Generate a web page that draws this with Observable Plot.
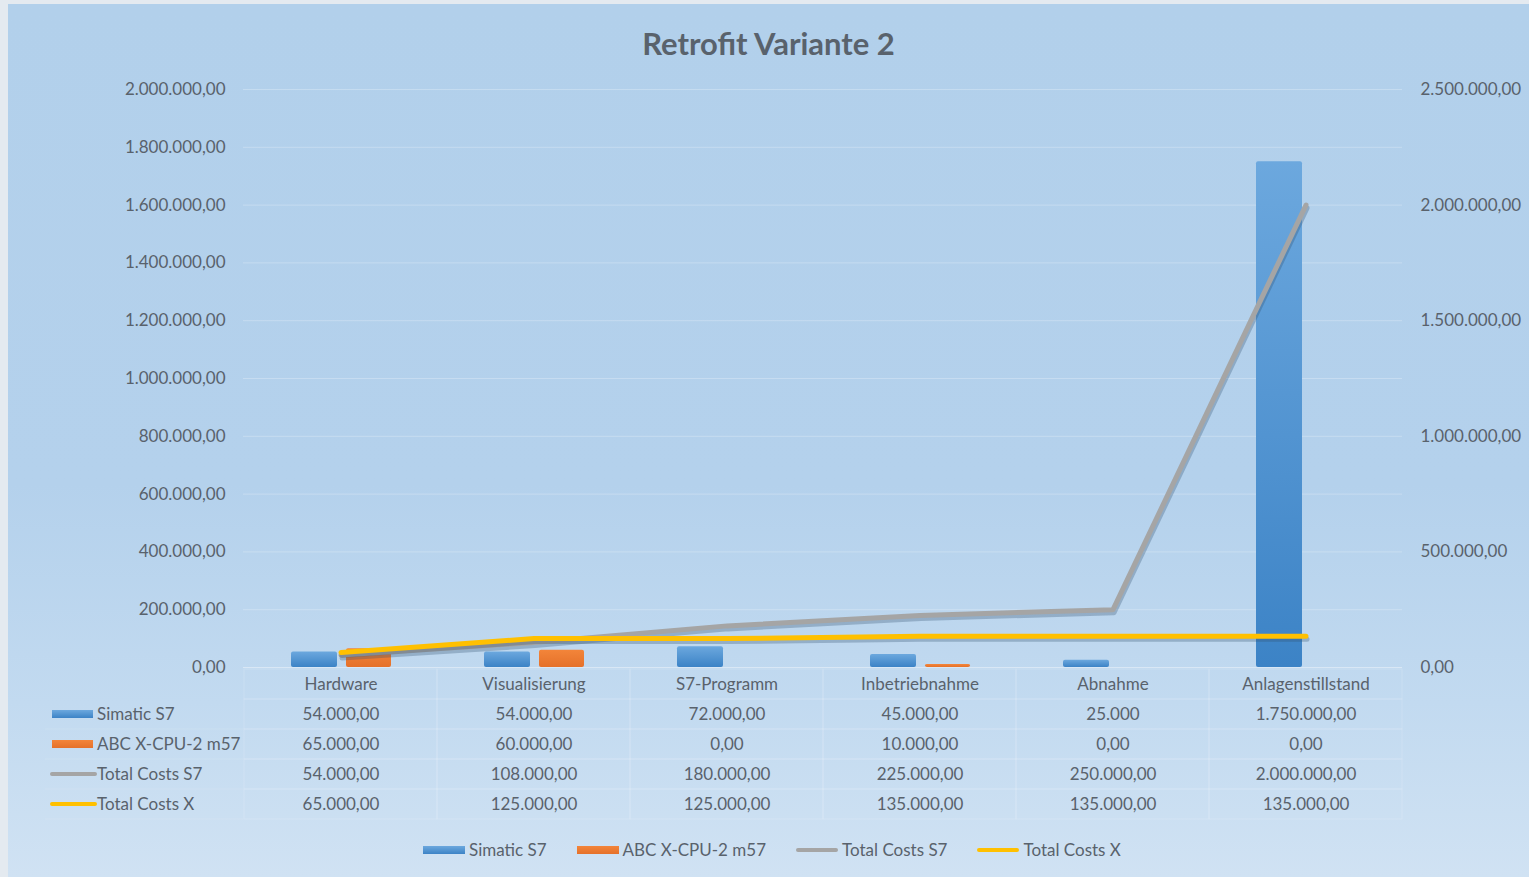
<!DOCTYPE html>
<html><head><meta charset="utf-8">
<script src="https://cdn.jsdelivr.net/npm/d3@7"></script>
<script src="https://cdn.jsdelivr.net/npm/@observablehq/plot@0.6"></script>
<style>
html,body{margin:0;padding:0;background:#e4eaf0;width:1529px;height:877px;overflow:hidden;}
#chart{position:absolute;left:8px;top:4px;width:1521px;height:873px;
  background:linear-gradient(180deg,#b2d0eb 0%,#b4d1ec 55%,#c2daf0 80%,#d0e2f3 100%);
  font-family:Lato,"Open Sans",sans-serif;color:#59626c;overflow:hidden;}
#title{position:absolute;left:0;width:1521px;top:20px;text-align:center;font-weight:bold;font-size:31px;line-height:38px;color:#59626c;}
#main{position:absolute;left:0;top:56px;}
#table{position:absolute;left:0;top:663px;}
#legend{position:absolute;left:415px;top:836px;height:20px;display:flex;align-items:center;font-size:17px;line-height:20px;}
.item{display:flex;align-items:center;margin-right:30px;}
.sw{width:42px;margin-right:4px;}
.bar{height:8px;}
.ln{height:4px;border-radius:2px;}
</style></head>
<body>
<div id="chart">
  <div id="title">Retrofit Variante 2</div>
  <div id="main"></div>
  <div id="table"></div>
  <div id="legend"></div>
</div>
<script>
// ---- data ----
const categories = ["Hardware","Visualisierung","S7-Programm","Inbetriebnahme","Abnahme","Anlagenstillstand"];
const simatic  = [54000, 54000, 72000, 45000, 25000, 1750000];
const abc      = [65000, 60000, 0, 10000, 0, 0];
const totalS7  = [54000, 108000, 180000, 225000, 250000, 2000000];
const totalX   = [65000, 125000, 125000, 135000, 135000, 135000];
const simaticCellFormat = [",.2f", ",.2f", ",.2f", ",.2f", ",", ",.2f"];
const seriesNames = ["Simatic S7","ABC X-CPU-2 m57","Total Costs S7","Total Costs X"];
const leftTicks  = [0,200000,400000,600000,800000,1000000,1200000,1400000,1600000,1800000,2000000];
const rightTicks = [0,500000,1000000,1500000,2000000,2500000];
const leftMax = 2000000, rightMax = 2500000;

// ---- helpers ----
const de = d3.formatLocale({decimal:",", thousands:".", grouping:[3], currency:["","€"]});
const fmt = de.format(",.2f");
const k = leftMax / rightMax; // map right axis values onto left scale
const colors = {blue:"#5b9bd5", orange:"#ed7d31", gray:"#a5a5a5", yellow:"#ffc000"};
const textColor = "#59626c";
const ns = "http://www.w3.org/2000/svg";

function defs(prefix){
  return () => {
    const d = document.createElementNS(ns,"defs");
    d.innerHTML = `
      <linearGradient id="${prefix}blue" x1="0" y1="0" x2="0" y2="1">
        <stop offset="0" stop-color="#6ca8de"/><stop offset="1" stop-color="#3c83c6"/>
      </linearGradient>
      <linearGradient id="${prefix}orange" x1="0" y1="0" x2="0" y2="1">
        <stop offset="0" stop-color="#f3853a"/><stop offset="1" stop-color="#e5712a"/>
      </linearGradient>`;
    return d;
  };
}

const rows = categories.map((c,i)=>({cat:c, simatic:simatic[i], abc:abc[i], totalS7:totalS7[i], totalX:totalX[i]}));

const baseStyle = {background:"transparent", fontFamily:"Lato, 'Open Sans', sans-serif", fontSize:"17px", color:textColor, overflow:"visible"};

// ---- main chart ----
const main = Plot.plot({
  width:1521, height:620,
  marginLeft:235, marginRight:127, marginTop:29, marginBottom:13,
  style: baseStyle,
  x:{type:"band", domain:categories, padding:0, axis:null},
  y:{domain:[0,leftMax], axis:null},
  marks:[
    defs("m"),
    Plot.gridY(leftTicks.slice(1), {stroke:"#ffffff", strokeOpacity:0.25}),
    Plot.axisY(leftTicks, {anchor:"left", tickSize:0, tickPadding:18, tickFormat:fmt, fill:textColor}),
    Plot.axisY(rightTicks.map(v=>v*k), {anchor:"right", tickSize:0, tickPadding:18, tickFormat:d=>fmt(Math.round(d/k)), fill:textColor}),
    Plot.barY(rows, {x:"cat", y:"simatic", fill:"url(#mblue)", insetLeft:47, insetRight:100, rx:2}),
    Plot.barY(rows, {x:"cat", y:"abc", fill:"url(#morange)", insetLeft:102, insetRight:46, rx:2}),
    Plot.ruleY([0], {stroke:"#ffffff", strokeOpacity:0.4}),
    Plot.lineY(rows, {x:"cat", y:d=>d.totalS7*k, stroke:"#33506e", strokeOpacity:0.3, strokeWidth:5, dx:1, dy:3, strokeLinecap:"round"}),
    Plot.lineY(rows, {x:"cat", y:d=>d.totalS7*k, stroke:colors.gray, strokeWidth:5, strokeLinecap:"round", strokeLinejoin:"round"}),
    Plot.lineY(rows, {x:"cat", y:d=>d.totalX*k, stroke:"#33506e", strokeOpacity:0.3, strokeWidth:5, dx:1, dy:3, strokeLinecap:"round"}),
    Plot.lineY(rows, {x:"cat", y:d=>d.totalX*k, stroke:colors.yellow, strokeWidth:5, strokeLinecap:"round", strokeLinejoin:"round"})
  ]
});
document.getElementById("main").appendChild(main);

// ---- data table ----
const rowKeys = ["__cat", ...seriesNames];
const cells = [];
categories.forEach((c,i)=>{
  cells.push({cat:c, row:"__cat", text:c});
  cells.push({cat:c, row:seriesNames[0], text:de.format(simaticCellFormat[i])(simatic[i])});
  cells.push({cat:c, row:seriesNames[1], text:fmt(abc[i])});
  cells.push({cat:c, row:seriesNames[2], text:fmt(totalS7[i])});
  cells.push({cat:c, row:seriesNames[3], text:fmt(totalX[i])});
});
const swatchKinds = [
  {name:seriesNames[0], type:"bar", fill:"url(#tblue)"},
  {name:seriesNames[1], type:"bar", fill:"url(#torange)"},
  {name:seriesNames[2], type:"line", fill:colors.gray},
  {name:seriesNames[3], type:"line", fill:colors.yellow}
];
function labelColumn(index, scales){
  const g = document.createElementNS(ns,"g");
  const y0 = scales.y(rowKeys[0]);
  const bw = scales.y(rowKeys[1]) - y0;
  swatchKinds.forEach(s=>{
    const cy = scales.y(s.name) + bw/2;
    if (s.type==="bar"){
      const r = document.createElementNS(ns,"rect");
      r.setAttribute("x",44); r.setAttribute("y",cy-4); r.setAttribute("width",41); r.setAttribute("height",8);
      r.setAttribute("fill",s.fill); g.appendChild(r);
    } else {
      const l = document.createElementNS(ns,"line");
      l.setAttribute("x1",44); l.setAttribute("x2",87); l.setAttribute("y1",cy); l.setAttribute("y2",cy);
      l.setAttribute("stroke",s.fill); l.setAttribute("stroke-width",4); l.setAttribute("stroke-linecap","round");
      g.appendChild(l);
    }
    const t = document.createElementNS(ns,"text");
    t.setAttribute("x",89); t.setAttribute("y",cy); t.setAttribute("dy","0.35em");
    t.setAttribute("text-anchor","start");
    t.setAttribute("fill",textColor); t.setAttribute("font-size",17);
    t.textContent = s.name; g.appendChild(t);
    const hl = document.createElementNS(ns,"line");
    hl.setAttribute("x1",37); hl.setAttribute("x2",235); hl.setAttribute("y1",cy+bw/2); hl.setAttribute("y2",cy+bw/2);
    hl.setAttribute("stroke","#ffffff"); hl.setAttribute("stroke-opacity",0.12);
    g.appendChild(hl);
  });
  return g;
}
const table = Plot.plot({
  width:1521, height:155,
  marginLeft:235, marginRight:127, marginTop:0, marginBottom:2,
  style: baseStyle,
  x:{type:"band", domain:categories, padding:0, axis:null},
  y:{type:"band", domain:rowKeys, padding:0, axis:null},
  marks:[
    defs("t"),
    Plot.cell(cells, {x:"cat", y:"row", fill:"none", stroke:"#ffffff", strokeOpacity:0.16}),
    Plot.text(cells, {x:"cat", y:"row", text:"text", fill:textColor, fontSize:17}),
    labelColumn
  ]
});
document.getElementById("table").appendChild(table);

// ---- legend ----
const legend = document.getElementById("legend");
const legendItems = [
  {name:seriesNames[0], css:"bar", bg:"linear-gradient(#6ca8de,#3c83c6)"},
  {name:seriesNames[1], css:"bar", bg:"linear-gradient(#f3853a,#e5712a)"},
  {name:seriesNames[2], css:"ln", bg:colors.gray},
  {name:seriesNames[3], css:"ln", bg:colors.yellow}
];
legendItems.forEach(it=>{
  const d = document.createElement("div"); d.className="item";
  const s = document.createElement("div"); s.className="sw "+it.css; s.style.background=it.bg;
  const t = document.createElement("span"); t.textContent=it.name;
  d.appendChild(s); d.appendChild(t); legend.appendChild(d);
});
</script>
</body></html>
